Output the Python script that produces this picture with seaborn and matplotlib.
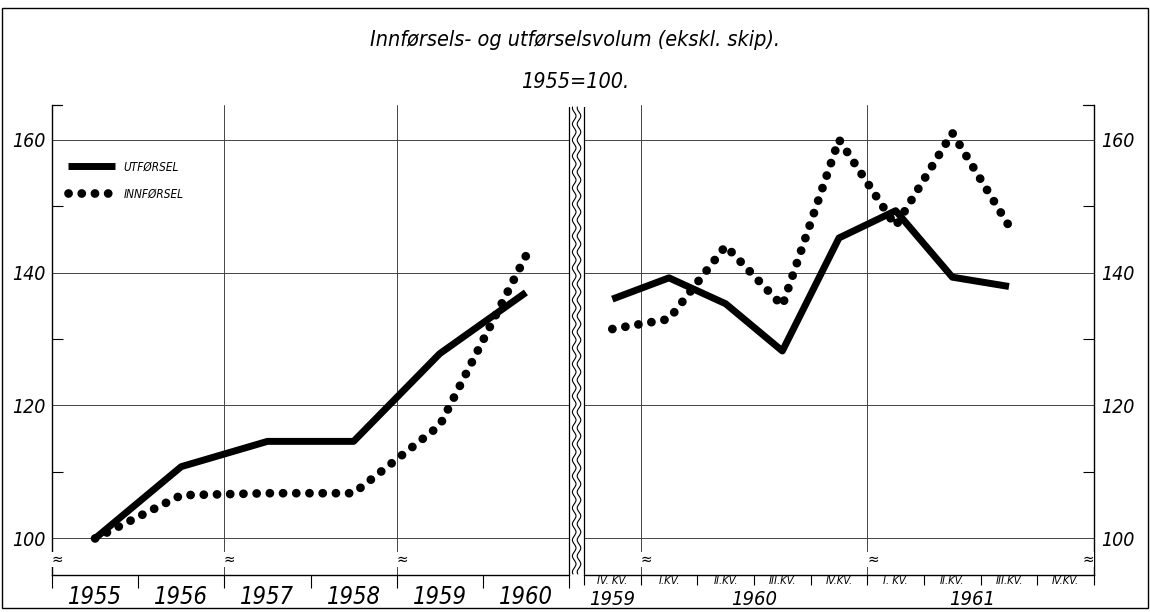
import numpy as np
import pandas as pd
import seaborn as sns
import matplotlib
matplotlib.use('Agg')
from matplotlib import pyplot as plt
from matplotlib.lines import Line2D
from matplotlib.patches import Rectangle

# annual index, 1955 = 100
years = ['1955', '1956', '1957', '1958', '1959', '1960']
utf_year = [100.0, 110.8, 114.6, 114.6, 127.8, 137.0]
inn_year = [100.0, 106.5, 106.8, 106.8, 117.0, 142.5]

# quarterly index IV.kv 1959 - IV.kv 1961 (last quarter not published)
quarters = ['IV. KV.', 'I.KV.', 'II.KV.', 'III.KV.', 'IV.KV.',
            'I. KV.', 'II.KV.', 'III.KV.', 'IV.KV.']
quarter_years = ['1959', '1960', '1961']
utf_quarter = [136.0, 139.2, 135.3, 128.2, 145.2, 149.3, 139.3, 137.9]
inn_quarter = [131.5, 133.0, 144.0, 135.0, 160.0, 147.0, 161.0, 147.0]

yticks = [100, 120, 140, 160]
yminor = [110, 130, 150]

sns.set_style('white')
plt.rcParams['font.family'] = ['DejaVu Sans']
plt.rcParams['font.style'] = 'italic'
plt.rcParams['font.stretch'] = 'condensed'
for k in ['text.color', 'axes.labelcolor', 'xtick.color', 'ytick.color']:
    plt.rcParams[k] = 'black'

W, H = 1150, 612
fig = plt.figure(figsize=(W / 100, H / 100), dpi=100)

def px(x0, y0, x1, y1):
    return [x0 / W, 1 - y1 / H, (x1 - x0) / W, (y1 - y0) / H]

axl = fig.add_axes(px(52, 105, 569, 575))
axr = fig.add_axes(px(584, 105, 1094, 575))

DOT = (0, (0.01, 1.5))
grid_kw = dict(color='#444444', lw=0.7, zorder=1)

df_y = pd.DataFrame({'pos': np.arange(len(years)) + 0.5, 'utf': utf_year, 'inn': inn_year})
df_q = pd.DataFrame({'pos': np.arange(len(utf_quarter)) + 0.5, 'utf': utf_quarter, 'inn': inn_quarter})

for ax, df in [(axl, df_y), (axr, df_q)]:
    sns.lineplot(data=df, x='pos', y='utf', ax=ax, color='black', lw=5,
                 solid_capstyle='butt', label='UTFØRSEL', zorder=3)
    sns.lineplot(data=df, x='pos', y='inn', ax=ax, color='black', lw=6.3,
                 linestyle=DOT, dash_capstyle='round', label='INNFØRSEL', zorder=3)
    ax.set_ylim(94.5, 165.2)
    ax.set_xlabel('')
    ax.set_ylabel('')
    for y in yticks:
        ax.axhline(y, **grid_kw)
    for s in ax.spines.values():
        s.set_color('black')
        s.set_linewidth(1.0)
    ax.spines['top'].set_visible(False)
    ax.set_yticks(yticks)
    ax.set_yticks(yminor, minor=True)
    ax.tick_params(axis='y', which='major', length=0, pad=5, labelsize=14)
    ax.tick_params(axis='y', which='minor', direction='in', length=8, width=0.8)
    ax.tick_params(axis='x', which='both', bottom=True)

# left panel: years
axl.set_xlim(0, len(years))
axl.spines['right'].set_visible(False)
axl.tick_params(axis='y', which='both', left=True)
axl.set_xticks(np.arange(len(years) + 1))
axl.set_xticklabels([])
axl.set_xticks(np.arange(len(years)) + 0.5, labels=years, minor=True)
axl.tick_params(axis='x', which='major', direction='out', length=9, width=0.8)
axl.tick_params(axis='x', which='minor', length=0, pad=7, labelsize=17)
for x in [2, 4]:
    axl.axvline(x, **grid_kw)
axl.plot([0, 0.12], [165.2, 165.2], color='black', lw=0.9, clip_on=False)
for x in [0, 2, 4]:
    axl.text(x + 0.06, 96.8, '≈', ha='center', va='center', fontsize=11, zorder=4,
             bbox=dict(fc='white', ec='none', pad=0))

leg = axl.legend(loc='upper left', bbox_to_anchor=(0.01, 0.905), frameon=False,
                 handlelength=4, handletextpad=0.7, labelspacing=1.2,
                 prop=dict(family='DejaVu Sans', style='italic', size=8.5))

# right panel: quarters
axr.set_xlim(0, len(quarters))
axr.spines['left'].set_visible(False)
axr.yaxis.tick_right()
axr.tick_params(axis='y', which='both', right=True, left=False)
axr.set_xticks(np.arange(len(quarters) + 1))
axr.set_xticklabels([])
axr.set_xticks(np.arange(len(quarters)) + 0.5, labels=quarters, minor=True)
axr.tick_params(axis='x', which='major', direction='out', length=7, width=0.8)
axr.tick_params(axis='x', which='minor', length=0, pad=1, labelsize=8)
axr.get_legend().remove()
for x in [1, 5]:
    axr.axvline(x, **grid_kw)
axr.plot([8.8, 9], [165.2, 165.2], color='black', lw=0.9, clip_on=False)
for x in [1, 5, 9]:
    axr.text(x - 0.1 if x == 9 else x + 0.1, 96.8, '≈', ha='center', va='center',
             fontsize=11, zorder=4, bbox=dict(fc='white', ec='none', pad=0))
for lab, xc in zip(quarter_years, [0.5, 3.0, 6.85]):
    axr.text(xc, -0.031, lab, transform=axr.get_xaxis_transform(),
             ha='center', va='top', fontsize=14.5)

# wavy break between the panels
yy = np.linspace(107, 574, 600)
for xc in [569, 584]:
    fig.add_artist(Line2D([xc / W, xc / W], [1 - 107 / H, 1 - 574 / H],
                          color='black', lw=0.9, transform=fig.transFigure))
for xc in [574.2, 579.0]:
    xx = xc + 1.8 * np.sin(yy / 16 * 2 * np.pi)
    fig.add_artist(Line2D(xx / W, 1 - yy / H, color='black', lw=0.8,
                          transform=fig.transFigure))

# outer frame
fig.add_artist(Rectangle((2 / W, 4 / H), 1146 / W, 600 / H, fill=False,
                         ec='black', lw=1.0, transform=fig.transFigure))

fig.text(0.5, 1 - 40 / H, 'Innførsels- og utførselsvolum (ekskl. skip).',
         ha='center', va='center', fontsize=15.5)
fig.text(0.5, 1 - 82 / H, '1955=100.', ha='center', va='center', fontsize=15.5)

fig.savefig('out.png', dpi=100)
